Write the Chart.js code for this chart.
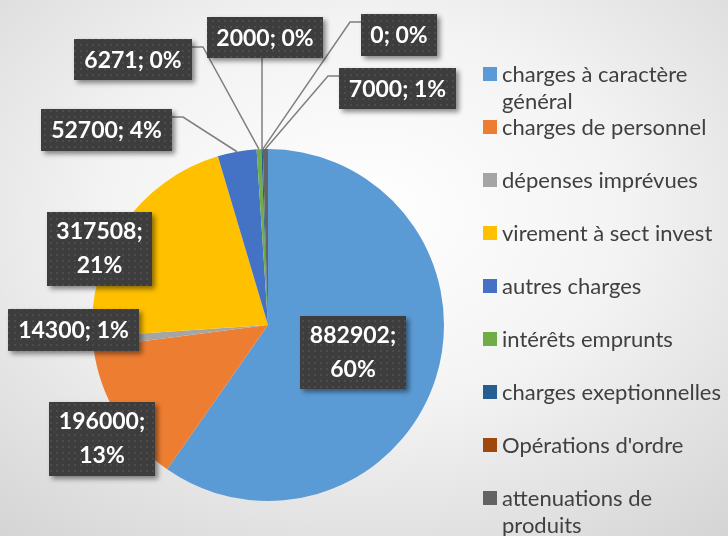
<!DOCTYPE html>
<html>
<head>
<meta charset="utf-8">
<script src="https://cdn.jsdelivr.net/npm/chart.js@4.4.0/dist/chart.umd.min.js"></script>
<style>
  html, body { margin: 0; padding: 0; }
  body {
    width: 728px; height: 536px; overflow: hidden; position: relative;
    background: radial-gradient(ellipse 80% 80% at 50% 40%, #ffffff 0%, #f3f3f3 45%, #d3d3d3 100%);
    font-family: Lato, "Open Sans", sans-serif;
  }
  #chart { position: absolute; left: 0; top: 0; }
  #legend { position: absolute; left: 483px; top: 0; width: 245px; }
  .item { position: absolute; left: 0; display: flex; align-items: flex-start; }
  .sw { width: 14px; height: 14px; margin-top: 7px; margin-right: 5px; flex: none; }
  .txt { width: 226px; color: #404040; font-size: 22px; line-height: 27px; }
</style>
</head>
<body>
<canvas id="chart" width="728" height="536"></canvas>
<div id="legend"></div>
<script>
const categories = [
  "charges à caractère général",
  "charges de personnel",
  "dépenses imprévues",
  "virement à sect invest",
  "autres charges",
  "intérêts emprunts",
  "charges exeptionnelles",
  "Opérations d'ordre",
  "attenuations de produits",
];
const amounts = [882902, 196000, 14300, 317508, 52700, 6271, 2000, 0, 7000];
const percents = [60, 13, 1, 21, 4, 0, 0, 0, 1];
const colors = ["#5B9BD5", "#ED7D31", "#A5A5A5", "#FFC000", "#4472C4", "#70AD47", "#255E91", "#9E480E", "#636363"];

// label boxes (layout only), one per slice, same order as categories
const boxes = [
  { x: 300, y: 316, w: 106, h: 73, lines: 2 },
  { x: 49, y: 402, w: 106, h: 74, lines: 2 },
  { x: 8, y: 309, w: 131, h: 42, lines: 1 },
  { x: 47, y: 212, w: 105, h: 74, lines: 2 },
  { x: 41, y: 109, w: 131, h: 42, lines: 1, leader: "right" },
  { x: 74, y: 39, w: 118, h: 41, lines: 1, leader: "right" },
  { x: 207, y: 17, w: 116, h: 41, lines: 1, leader: "bottom" },
  { x: 361, y: 14, w: 76, h: 42, lines: 1, leader: "left" },
  { x: 339, y: 68, w: 117, h: 41, lines: 1, leader: "left" },
];

// dotted fill for the label boxes
const pc = document.createElement("canvas");
pc.width = 6; pc.height = 6;
const p = pc.getContext("2d");
p.fillStyle = "#3d3d3d"; p.fillRect(0, 0, 6, 6);
p.fillStyle = "#4c4c4c"; p.fillRect(2, 2, 2, 2);

const callouts = {
  id: "callouts",
  afterDatasetsDraw(chart) {
    const ctx = chart.ctx;
    const arcs = chart.getDatasetMeta(0).data;
    const pattern = ctx.createPattern(pc, "repeat");
    ctx.save();
    ctx.strokeStyle = "#7f7f7f";
    ctx.lineWidth = 1.5;
    boxes.forEach((b, i) => {
      if (!b.leader) return;
      const a = arcs[i].getProps(["x", "y", "startAngle", "endAngle", "outerRadius"], true);
      const mid = (a.startAngle + a.endAngle) / 2;
      const px = a.x + Math.cos(mid) * a.outerRadius;
      const py = a.y + Math.sin(mid) * a.outerRadius;
      ctx.beginPath();
      if (b.leader === "bottom") {
        ctx.moveTo(px, b.y + b.h);
        ctx.lineTo(px, py);
      } else {
        const sx = b.leader === "right" ? b.x + b.w : b.x;
        const ex = b.leader === "right" ? sx + 11 : sx - 11;
        const sy = b.y + 8;
        ctx.moveTo(sx, sy);
        ctx.lineTo(ex, sy);
        ctx.lineTo(px, py);
      }
      ctx.stroke();
    });

    boxes.forEach((b, i) => {
      ctx.save();
      ctx.shadowColor = "rgba(0,0,0,0.45)";
      ctx.shadowBlur = 5;
      ctx.shadowOffsetX = 3;
      ctx.shadowOffsetY = 3;
      ctx.fillStyle = pattern;
      ctx.fillRect(b.x, b.y, b.w, b.h);
      ctx.restore();

      ctx.fillStyle = "#ffffff";
      ctx.font = "bold 23px Lato, sans-serif";
      ctx.textAlign = "center";
      ctx.textBaseline = "middle";
      const cx = b.x + b.w / 2;
      if (b.lines === 2) {
        ctx.fillText(amounts[i] + ";", cx, b.y + b.h / 2 - 17);
        ctx.fillText(percents[i] + "%", cx, b.y + b.h / 2 + 17);
      } else {
        ctx.fillText(amounts[i] + "; " + percents[i] + "%", cx, b.y + b.h / 2 + 1);
      }
    });
    ctx.restore();
  },
};

new Chart(document.getElementById("chart"), {
  type: "pie",
  data: {
    labels: categories,
    datasets: [{ data: amounts, backgroundColor: colors, borderWidth: 0 }],
  },
  options: {
    responsive: false,
    animation: false,
    layout: { padding: { left: 92, right: 284, top: 149, bottom: 35 } },
    plugins: {
      legend: { display: false },
      tooltip: { enabled: false },
    },
  },
  plugins: [callouts],
});

// legend on the right, fixed slots like the original
const legend = document.getElementById("legend");
categories.forEach((c, i) => {
  const item = document.createElement("div");
  item.className = "item";
  item.style.top = (73 + i * 53.1 - 13.5) + "px";
  item.innerHTML = `<span class="sw" style="background:${colors[i]}"></span><span class="txt">${c}</span>`;
  legend.appendChild(item);
});
</script>
</body>
</html>
